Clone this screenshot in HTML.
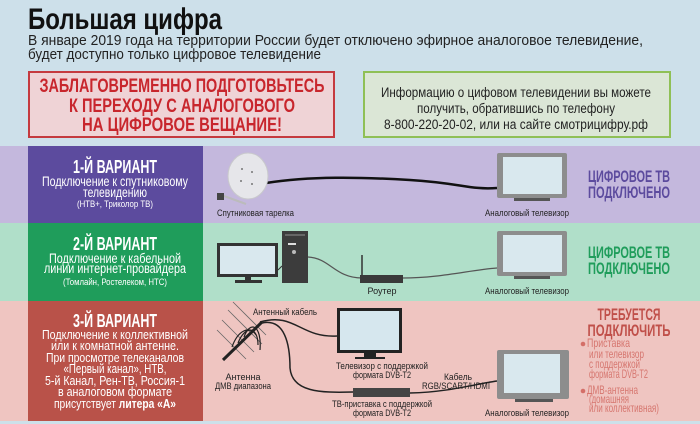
<!DOCTYPE html>
<html><head><meta charset="utf-8"><style>
html,body{margin:0;padding:0;background:#cde0ea;}
svg{display:block;font-family:"Liberation Sans",sans-serif;}
</style></head><body>
<svg width="700" height="424" viewBox="0 0 700 424" xmlns="http://www.w3.org/2000/svg">
<rect width="700" height="424" fill="#cde0ea"/>
<text x="28" y="29" font-size="30" font-weight="bold" fill="#111" textLength="194" lengthAdjust="spacingAndGlyphs">Большая цифра</text>
<text x="28" y="45" font-size="15" fill="#222" textLength="615" lengthAdjust="spacingAndGlyphs">В январе 2019 года на территории России будет отключено эфирное аналоговое телевидение,</text>
<text x="28" y="59" font-size="15" fill="#222" textLength="293" lengthAdjust="spacingAndGlyphs">будет доступно только цифровое телевидение</text>
<rect x="29" y="72" width="305" height="65" fill="#efd3d6" stroke="#c53a3f" stroke-width="2"/>
<g font-size="19" font-weight="bold" fill="#c8262d" text-anchor="middle">
<text x="182" y="92" textLength="285" lengthAdjust="spacingAndGlyphs">ЗАБЛАГОВРЕМЕННО ПОДГОТОВЬТЕСЬ</text>
<text x="182" y="112" textLength="226" lengthAdjust="spacingAndGlyphs">К ПЕРЕХОДУ С АНАЛОГОВОГО</text>
<text x="182" y="131" textLength="200" lengthAdjust="spacingAndGlyphs">НА ЦИФРОВОЕ ВЕЩАНИЕ!</text></g>
<rect x="364" y="72" width="306" height="65" fill="#dbe6d6" stroke="#8fc056" stroke-width="2"/>
<g font-size="13.5" fill="#222" text-anchor="middle">
<text x="516" y="97" textLength="270" lengthAdjust="spacingAndGlyphs">Информацию о цифовом телевидении вы можете</text>
<text x="516" y="113" textLength="198" lengthAdjust="spacingAndGlyphs">получить, обратившись по телефону</text>
<text x="516" y="129" textLength="264" lengthAdjust="spacingAndGlyphs">8-800-220-20-02, или на сайте смотрицифру.рф</text></g>

<!-- band 1 -->
<rect x="0" y="146" width="700" height="77" fill="#c4b8dd"/>
<rect x="28" y="146" width="175" height="77" fill="#5c4b9e"/>
<g fill="#fff" text-anchor="middle">
<text x="115" y="173" font-size="18" font-weight="bold" textLength="84" lengthAdjust="spacingAndGlyphs">1-Й ВАРИАНТ</text>
<text x="115" y="186" font-size="13.5" textLength="146" lengthAdjust="spacingAndGlyphs">Подключение к спутниковому</text>
<text x="115" y="197" font-size="13.5" textLength="64" lengthAdjust="spacingAndGlyphs">телевидению</text>
<text x="115" y="207" font-size="9" textLength="76" lengthAdjust="spacingAndGlyphs">(НТВ+, Триколор ТВ)</text></g>
<path d="M266 183 C310 176,360 177,410 180 S470 190,497 188" stroke="#111" stroke-width="2.5" fill="none"/>
<line x1="224" y1="196" x2="246" y2="204" stroke="#bbb" stroke-width="2"/>
<ellipse cx="248" cy="176" rx="20" ry="23" fill="#e6e6ea" stroke="#c8c8cc"/>
<circle cx="242" cy="169" r="1" fill="#777"/><circle cx="252" cy="172" r="1" fill="#777"/>
<circle cx="241" cy="181" r="1" fill="#777"/><circle cx="252" cy="184" r="1" fill="#777"/>
<rect x="217" y="193" width="7" height="7" fill="#444"/>
<text x="217" y="216" font-size="9" fill="#222" textLength="77" lengthAdjust="spacingAndGlyphs">Спутниковая тарелка</text>
<rect x="497" y="153" width="70" height="45" rx="2" fill="#8d8d8d"/>
<rect x="503" y="157" width="59" height="37" fill="#d9e8ee"/>
<rect x="514" y="198" width="36" height="3" fill="#555"/>
<text x="527" y="216" font-size="9" fill="#222" text-anchor="middle" textLength="84" lengthAdjust="spacingAndGlyphs">Аналоговый телевизор</text>
<g fill="#5c4b9e" font-size="17" font-weight="bold" text-anchor="middle">
<text x="629" y="182" textLength="82" lengthAdjust="spacingAndGlyphs">ЦИФРОВОЕ ТВ</text><text x="629" y="198" textLength="82" lengthAdjust="spacingAndGlyphs">ПОДКЛЮЧЕНО</text></g>

<!-- band 2 -->
<rect x="0" y="223" width="700" height="78" fill="#b0dfc9"/>
<rect x="28" y="223" width="175" height="78" fill="#1f9d5b"/>
<g fill="#fff" text-anchor="middle">
<text x="115" y="250" font-size="18" font-weight="bold" textLength="84" lengthAdjust="spacingAndGlyphs">2-Й ВАРИАНТ</text>
<text x="115" y="263" font-size="13.5" textLength="132" lengthAdjust="spacingAndGlyphs">Подключение к кабельной</text>
<text x="115" y="273" font-size="13.5" textLength="142" lengthAdjust="spacingAndGlyphs">линии интернет-провайдера</text>
<text x="115" y="285" font-size="9" textLength="104" lengthAdjust="spacingAndGlyphs">(Томлайн, Ростелеком, НТС)</text></g>
<path d="M308 257 C330 258,335 278,362 278" stroke="#555" stroke-width="1.2" fill="none"/>
<path d="M403 278 C440 278,470 270,497 268" stroke="#555" stroke-width="1.2" fill="none"/>
<rect x="217" y="243" width="61" height="34" fill="#333"/>
<rect x="220" y="246" width="55" height="28" fill="#d9e8ee"/>
<rect x="245" y="277" width="6" height="3" fill="#333"/>
<rect x="235" y="280" width="27" height="3" fill="#333"/>
<line x1="278" y1="270" x2="282" y2="266" stroke="#333"/>
<rect x="282" y="231" width="26" height="52" fill="#3c3c3c"/>
<rect x="285" y="234" width="20" height="2" fill="#666"/>
<rect x="288" y="243" width="8" height="2" fill="#ddd"/>
<circle cx="294" cy="252" r="2" fill="#bbb"/>
<line x1="362" y1="255" x2="362" y2="276" stroke="#333" stroke-width="1.5"/>
<rect x="360" y="275" width="43" height="8" fill="#3a3a3a"/>
<rect x="497" y="231" width="70" height="45" rx="2" fill="#8d8d8d"/>
<rect x="503" y="235" width="59" height="37" fill="#d9e8ee"/>
<rect x="514" y="276" width="36" height="3" fill="#555"/>
<text x="382" y="294" font-size="9" fill="#222" text-anchor="middle">Роутер</text>
<text x="527" y="294" font-size="9" fill="#222" text-anchor="middle" textLength="84" lengthAdjust="spacingAndGlyphs">Аналоговый телевизор</text>
<g fill="#1f9d5b" font-size="17" font-weight="bold" text-anchor="middle">
<text x="629" y="258" textLength="82" lengthAdjust="spacingAndGlyphs">ЦИФРОВОЕ ТВ</text><text x="629" y="274" textLength="82" lengthAdjust="spacingAndGlyphs">ПОДКЛЮЧЕНО</text></g>

<!-- band 3 -->
<rect x="0" y="301" width="700" height="120" fill="#efc5c1"/>
<rect x="28" y="301" width="175" height="120" fill="#b95249"/>
<g fill="#fff" text-anchor="middle" font-size="13">
<text x="115" y="327" font-size="18" font-weight="bold" textLength="84" lengthAdjust="spacingAndGlyphs">3-Й ВАРИАНТ</text>
<text x="115" y="339" textLength="146" lengthAdjust="spacingAndGlyphs">Подключение к коллективной</text>
<text x="115" y="350" textLength="128" lengthAdjust="spacingAndGlyphs">или к комнатной антенне.</text>
<text x="115" y="362" textLength="138" lengthAdjust="spacingAndGlyphs">При просмотре телеканалов</text>
<text x="115" y="373" textLength="103" lengthAdjust="spacingAndGlyphs">«Первый канал», НТВ,</text>
<text x="115" y="385" textLength="140" lengthAdjust="spacingAndGlyphs">5-й Канал, Рен-ТВ, Россия-1</text>
<text x="115" y="396" textLength="114" lengthAdjust="spacingAndGlyphs">в аналоговом формате</text>
<text x="115" y="408" textLength="122" lengthAdjust="spacingAndGlyphs">присутствует <tspan font-weight="bold">литера «А»</tspan></text></g>
<g stroke="#666" stroke-width="0.8">
<line x1="228" y1="310" x2="262" y2="344"/><line x1="222" y1="320" x2="254" y2="352"/>
<line x1="217" y1="330" x2="246" y2="359"/><line x1="233" y1="302" x2="266" y2="335"/></g>
<line x1="223" y1="360" x2="262" y2="322" stroke="#222" stroke-width="3"/>
<path d="M232 347 C238 330,250 325,256 335 M238 343 C245 325,258 326,258 345 M244 337 C250 320,262 325,260 350" stroke="#222" stroke-width="1.2" fill="none"/>
<path d="M260 322 C295 312,300 338,337 336" stroke="#222" stroke-width="1.5" fill="none"/>
<path d="M262 323 C285 318,290 345,290 368 C292 392,320 393,353 392" stroke="#222" stroke-width="1.5" fill="none"/>
<path d="M410 393 C450 392,475 384,497 381" stroke="#222" stroke-width="1.5" fill="none"/>
<rect x="337" y="308" width="65" height="45" fill="#222"/>
<rect x="340" y="311" width="59" height="39" fill="#d6e7ee"/>
<rect x="364" y="353" width="12" height="4" fill="#222"/>
<rect x="355" y="357" width="30" height="2" fill="#222"/>
<rect x="353" y="388" width="57" height="9" fill="#444"/>
<rect x="497" y="350" width="72" height="49" rx="2" fill="#8d8d8d"/>
<rect x="504" y="354" width="56" height="39" fill="#d9e8ee"/>
<rect x="515" y="399" width="38" height="3" fill="#555"/>
<g font-size="9" fill="#222" text-anchor="middle">
<text x="285" y="315" textLength="64" lengthAdjust="spacingAndGlyphs">Антенный кабель</text>
<text x="243" y="380">Антенна</text><text x="243" y="389" textLength="56" lengthAdjust="spacingAndGlyphs">ДМВ диапазона</text>
<text x="382" y="369" textLength="92" lengthAdjust="spacingAndGlyphs">Телевизор с поддержкой</text><text x="382" y="378" textLength="58" lengthAdjust="spacingAndGlyphs">формата DVB-T2</text>
<text x="382" y="407" textLength="100" lengthAdjust="spacingAndGlyphs">ТВ-приставка с поддержкой</text><text x="382" y="416" textLength="58" lengthAdjust="spacingAndGlyphs">формата DVB-T2</text>
<text x="458" y="380" textLength="28" lengthAdjust="spacingAndGlyphs">Кабель</text><text x="456" y="389" textLength="68" lengthAdjust="spacingAndGlyphs">RGB/SCART/HDMI</text>
<text x="527" y="416" textLength="84" lengthAdjust="spacingAndGlyphs">Аналоговый телевизор</text></g>
<g fill="#c0504a" font-size="17" font-weight="bold" text-anchor="middle">
<text x="629" y="320" textLength="63" lengthAdjust="spacingAndGlyphs">ТРЕБУЕТСЯ</text><text x="629" y="336" textLength="83" lengthAdjust="spacingAndGlyphs">ПОДКЛЮЧИТЬ</text></g>
<circle cx="583" cy="344" r="2.3" fill="#d46f68"/>
<circle cx="583" cy="391" r="2.3" fill="#d46f68"/>
<g fill="#d6766f" font-size="12">
<text x="587" y="347" textLength="43" lengthAdjust="spacingAndGlyphs">Приставка</text>
<text x="589" y="358" textLength="55" lengthAdjust="spacingAndGlyphs">или телевизор</text>
<text x="589" y="368" textLength="51" lengthAdjust="spacingAndGlyphs">с поддержкой</text>
<text x="589" y="378" textLength="59" lengthAdjust="spacingAndGlyphs">формата DVB-T2</text>
<text x="587" y="394" textLength="51" lengthAdjust="spacingAndGlyphs">ДМВ-антенна</text>
<text x="589" y="403" textLength="40" lengthAdjust="spacingAndGlyphs">(домашняя</text>
<text x="589" y="412" textLength="70" lengthAdjust="spacingAndGlyphs">или коллективная)</text></g>
</svg>
</body></html>
